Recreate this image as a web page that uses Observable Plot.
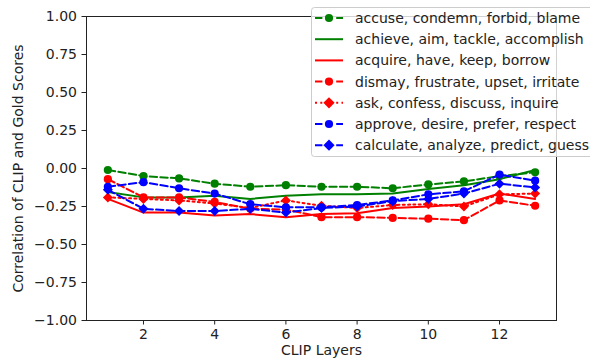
<!DOCTYPE html>
<html>
<head>
<meta charset="utf-8">
<script src="https://cdn.jsdelivr.net/npm/d3@7"></script>
<script src="https://cdn.jsdelivr.net/npm/@observablehq/plot@0.6"></script>
<style>
  body { margin: 0; background: #fff; }
  #wrap { position: relative; width: 590px; height: 362px; overflow: hidden; }
  #wrap svg { position: absolute; left: 0; top: 0; }
</style>
</head>
<body>
<div id="wrap"></div>
<script>
const layers = [1, 2, 3, 4, 5, 6, 7, 8, 9, 10, 11, 12, 13];
const xTicks = [2, 4, 6, 8, 10, 12];
const yTicks = [-1, -0.75, -0.5, -0.25, 0, 0.25, 0.5, 0.75, 1];

const seriesNames = [
  "accuse, condemn, forbid, blame",
  "achieve, aim, tackle, accomplish",
  "acquire, have, keep, borrow",
  "dismay, frustrate, upset, irritate",
  "ask, confess, discuss, inquire",
  "approve, desire, prefer, respect",
  "calculate, analyze, predict, guess"
];
const accuse    = [-0.01, -0.05, -0.065, -0.10, -0.12, -0.11, -0.12, -0.12, -0.13, -0.105, -0.085, -0.05, -0.025];
const achieve   = [-0.155, -0.19, -0.19, -0.18, -0.20, -0.18, -0.17, -0.17, -0.165, -0.135, -0.11, -0.07, -0.01];
const acquire   = [-0.20, -0.29, -0.29, -0.31, -0.30, -0.32, -0.30, -0.295, -0.26, -0.25, -0.235, -0.165, -0.20];
const dismay    = [-0.07, -0.19, -0.19, -0.22, -0.265, -0.27, -0.32, -0.32, -0.325, -0.33, -0.34, -0.21, -0.245];
const ask       = [-0.19, -0.20, -0.21, -0.23, -0.26, -0.21, -0.245, -0.26, -0.24, -0.235, -0.25, -0.17, -0.165];
const approve   = [-0.12, -0.09, -0.13, -0.165, -0.235, -0.255, -0.255, -0.24, -0.21, -0.17, -0.15, -0.04, -0.08];
const calculate = [-0.14, -0.265, -0.28, -0.28, -0.265, -0.29, -0.26, -0.25, -0.215, -0.20, -0.165, -0.10, -0.125];

const seriesValues = [accuse, achieve, acquire, dismay, ask, approve, calculate];
const seriesColors = ["#008000", "#008000", "#ff0000", "#ff0000", "#ff0000", "#0000ff", "#0000ff"];
const seriesDash   = ["7.4,3.2", null, null, "7.4,3.2", "2,3.3", "7.4,3.2", "7.4,3.2"];
const seriesMarker = ["circle", null, null, "circle", "diamond2", "circle", "diamond2"];

const LW = 2;
const FONT = "DejaVu Sans";
const FS = 14;

const marks = [];
seriesNames.forEach((name, i) => {
  const data = layers.map((l, j) => ({layer: l, value: seriesValues[i][j]}));
  marks.push(Plot.line(data, {
    x: "layer", y: "value",
    stroke: seriesColors[i], strokeWidth: LW,
    strokeDasharray: seriesDash[i] || undefined
  }));
  if (seriesMarker[i]) {
    marks.push(Plot.dot(data, {
      x: "layer", y: "value",
      fill: seriesColors[i], stroke: "none",
      symbol: seriesMarker[i],
      r: seriesMarker[i] === "circle" ? 4.1 : 4.5
    }));
  }
});

const plot = Plot.plot({
  width: 590, height: 362,
  marginLeft: 86, marginRight: 34, marginTop: 16, marginBottom: 42,
  style: {fontFamily: FONT, fontSize: FS + "px", color: "#222", background: "transparent"},
  x: {domain: [0.4, 13.6]},
  y: {domain: [-1, 1]},
  marks: [
    Plot.axisX(xTicks, {tickSize: 4.5, tickPadding: 4, label: null, fontSize: FS, stroke: "#222", strokeWidth: 1}),
    Plot.axisY(yTicks, {tickSize: 4.5, tickPadding: 5, label: null, fontSize: FS,
      tickFormat: d3.format(".2f"), stroke: "#222", strokeWidth: 1}),
    ...marks,
    Plot.frame({stroke: "#222", strokeWidth: 1}),
    Plot.text(["CLIP Layers"], {frameAnchor: "bottom", text: d => d, dy: 34, fontSize: FS, textAnchor: "middle", fill: "#222"}),
    Plot.text(["Correlation of CLIP and Gold Scores"], {frameAnchor: "left", text: d => d, rotate: -90, dx: -68, fontSize: FS, textAnchor: "middle", fill: "#222"})
  ]
});
const wrap = document.getElementById("wrap");
wrap.appendChild(plot);

// Legend (matplotlib-style box)
const leg = d3.select(wrap).append("svg")
  .attr("width", 590).attr("height", 362)
  .style("font-family", FONT).style("font-size", FS + "px");
leg.append("rect")
  .attr("x", 311.5).attr("y", 7.5).attr("width", 300).attr("height", 149)
  .attr("rx", 3).attr("fill", "#fff").attr("fill-opacity", 0.8)
  .attr("stroke", "#cccccc").attr("stroke-width", 1);
seriesNames.forEach((name, i) => {
  const cy = 18 + i * 21.2;
  const g = leg.append("g");
  g.append("line").attr("x1", 315).attr("x2", 343).attr("y1", cy).attr("y2", cy)
    .attr("stroke", seriesColors[i]).attr("stroke-width", LW)
    .attr("stroke-dasharray", seriesDash[i] || null);
  if (seriesMarker[i] === "circle") {
    g.append("circle").attr("cx", 329).attr("cy", cy).attr("r", 4.1).attr("fill", seriesColors[i]);
  } else if (seriesMarker[i] === "diamond2") {
    const s = 5.6;
    g.append("path").attr("d", `M329,${cy - s}L${329 + s},${cy}L329,${cy + s}L${329 - s},${cy}Z`).attr("fill", seriesColors[i]);
  }
  g.append("text").attr("x", 355).attr("y", cy).attr("dy", "0.36em").attr("fill", "#222").text(name);
});
</script>
</body>
</html>
